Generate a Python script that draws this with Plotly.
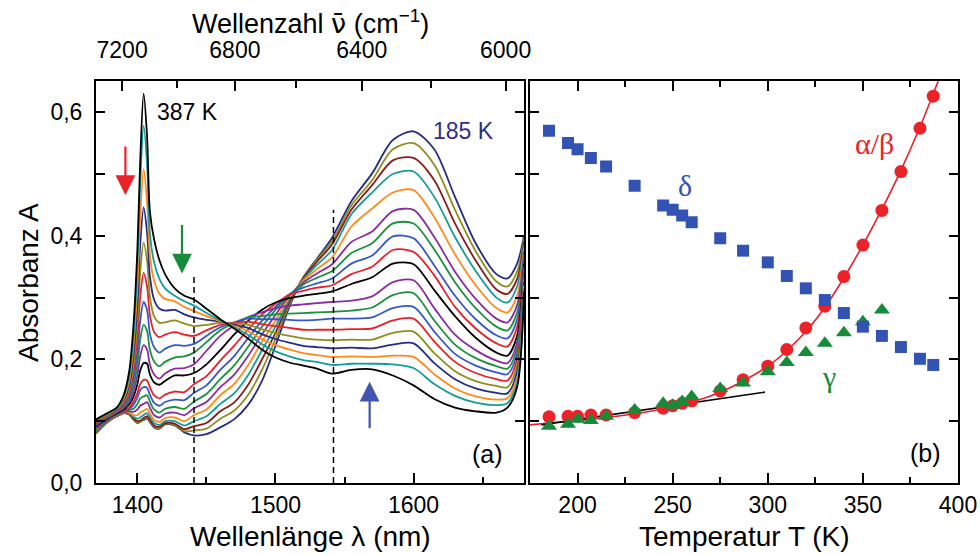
import plotly.graph_objects as go

# ---------------- panel (a): spectra ----------------
wavelength = [1370, 1378, 1385, 1390, 1394, 1397, 1400, 1402, 1404.5, 1407, 1409, 1412, 1416, 1420,
              1427, 1434, 1441, 1450, 1460, 1470, 1480, 1490, 1500, 1510, 1520, 1530, 1541,
              1555, 1570, 1585, 1600, 1615, 1630, 1645, 1660, 1668, 1675, 1680]

spec_T = [387, 380, 370, 360, 350, 340, 330, 320, 310, 300, 287, 275, 260, 250, 245, 230, 215, 200, 185]

spec_colors = ['#000000', '#139C9C', '#FF8A1C', '#232C86', '#8E8E1E', '#E8202A', '#3558C8', '#1B913C',
               '#8A2C9E', '#000000', '#E8202A', '#3558C8', '#1B913C', '#8A2C9E', '#FF8A1C', '#139C9C',
               '#8B1A1A', '#8E8E1E', '#232C86']

A_387 = [0.103, 0.113, 0.122, 0.142, 0.180, 0.250, 0.380, 0.520, 0.630,
         0.560, 0.440, 0.395, 0.360, 0.338, 0.315, 0.303, 0.297,
         0.282, 0.265, 0.250, 0.234, 0.216, 0.203, 0.195, 0.190, 0.185, 0.177,
         0.183, 0.184, 0.174, 0.158, 0.136, 0.122, 0.116, 0.114, 0.122, 0.155, 0.310]
A_380 = [0.102, 0.112, 0.121, 0.140, 0.172, 0.235, 0.355, 0.485, 0.578,
         0.515, 0.405, 0.358, 0.330, 0.315, 0.303, 0.294, 0.287,
         0.275, 0.263, 0.252, 0.240, 0.225, 0.213, 0.205, 0.199, 0.196, 0.191,
         0.193, 0.193, 0.192, 0.186, 0.160, 0.141, 0.130, 0.126, 0.129, 0.162, 0.315]
A_370 = [0.101, 0.111, 0.120, 0.137, 0.165, 0.220, 0.320, 0.430, 0.508,
         0.455, 0.370, 0.328, 0.306, 0.298, 0.294, 0.285, 0.278,
         0.270, 0.262, 0.254, 0.246, 0.233, 0.223, 0.216, 0.210, 0.207, 0.204,
         0.205, 0.204, 0.206, 0.204, 0.176, 0.153, 0.140, 0.135, 0.137, 0.170, 0.320]
A_360 = [0.100, 0.110, 0.119, 0.134, 0.158, 0.205, 0.290, 0.385, 0.446,
         0.405, 0.335, 0.297, 0.282, 0.279, 0.280, 0.273, 0.268,
         0.264, 0.261, 0.256, 0.251, 0.241, 0.233, 0.227, 0.222, 0.220, 0.218,
         0.219, 0.218, 0.224, 0.226, 0.194, 0.168, 0.153, 0.146, 0.145, 0.180, 0.325]
A_350 = [0.099, 0.109, 0.118, 0.131, 0.152, 0.190, 0.262, 0.340, 0.389,
         0.360, 0.302, 0.270, 0.259, 0.260, 0.263, 0.258, 0.254,
         0.256, 0.259, 0.258, 0.256, 0.249, 0.243, 0.238, 0.234, 0.232, 0.231,
         0.232, 0.232, 0.243, 0.245, 0.210, 0.181, 0.165, 0.157, 0.155, 0.190, 0.330]
A_340 = [0.097, 0.108, 0.117, 0.128, 0.146, 0.178, 0.237, 0.300, 0.340,
         0.318, 0.272, 0.245, 0.236, 0.240, 0.244, 0.240, 0.238,
         0.247, 0.256, 0.259, 0.261, 0.257, 0.254, 0.251, 0.248, 0.248, 0.248,
         0.249, 0.250, 0.263, 0.266, 0.229, 0.196, 0.178, 0.168, 0.166, 0.200, 0.335]
A_330 = [0.096, 0.107, 0.116, 0.125, 0.140, 0.166, 0.212, 0.262, 0.293,
         0.280, 0.242, 0.220, 0.211, 0.217, 0.223, 0.222, 0.225,
         0.238, 0.252, 0.260, 0.266, 0.265, 0.265, 0.264, 0.263, 0.264, 0.266,
         0.266, 0.268, 0.283, 0.285, 0.245, 0.209, 0.190, 0.179, 0.176, 0.209, 0.340]
A_320 = [0.095, 0.106, 0.115, 0.123, 0.136, 0.156, 0.192, 0.232, 0.256,
         0.246, 0.216, 0.197, 0.189, 0.196, 0.203, 0.205, 0.211,
         0.228, 0.247, 0.259, 0.268, 0.270, 0.273, 0.274, 0.275, 0.276, 0.277,
         0.279, 0.284, 0.304, 0.307, 0.263, 0.224, 0.202, 0.189, 0.185, 0.218, 0.345]
A_310 = [0.093, 0.105, 0.114, 0.121, 0.131, 0.147, 0.175, 0.205, 0.223,
         0.216, 0.192, 0.176, 0.169, 0.177, 0.185, 0.186, 0.192,
         0.214, 0.238, 0.255, 0.268, 0.276, 0.283, 0.287, 0.289, 0.291, 0.293,
         0.295, 0.302, 0.325, 0.328, 0.283, 0.240, 0.215, 0.198, 0.194, 0.227, 0.350]
A_300 = [0.092, 0.104, 0.113, 0.119, 0.127, 0.139, 0.160, 0.182, 0.194,
         0.193, 0.176, 0.163, 0.159, 0.165, 0.174, 0.174, 0.178,
         0.192, 0.215, 0.240, 0.262, 0.280, 0.292, 0.299, 0.303, 0.306, 0.310,
         0.322, 0.333, 0.355, 0.354, 0.312, 0.270, 0.235, 0.211, 0.206, 0.238, 0.355]
A_287 = [0.091, 0.103, 0.112, 0.117, 0.122, 0.131, 0.146, 0.160, 0.167,
         0.166, 0.155, 0.142, 0.137, 0.143, 0.148, 0.147, 0.160,
         0.173, 0.198, 0.222, 0.248, 0.272, 0.290, 0.305, 0.311, 0.316, 0.320,
         0.338, 0.350, 0.377, 0.374, 0.336, 0.285, 0.250, 0.226, 0.221, 0.252, 0.360]
A_275 = [0.090, 0.102, 0.111, 0.116, 0.120, 0.126, 0.138, 0.150, 0.155,
         0.154, 0.143, 0.130, 0.125, 0.131, 0.135, 0.134, 0.146,
         0.158, 0.183, 0.205, 0.234, 0.262, 0.285, 0.305, 0.316, 0.323, 0.331,
         0.355, 0.368, 0.399, 0.396, 0.352, 0.303, 0.265, 0.239, 0.234, 0.264, 0.365]
A_260 = [0.088, 0.101, 0.110, 0.115, 0.118, 0.120, 0.128, 0.137, 0.140,
         0.142, 0.132, 0.119, 0.114, 0.120, 0.123, 0.120, 0.132,
         0.144, 0.168, 0.190, 0.220, 0.252, 0.280, 0.304, 0.321, 0.332, 0.343,
         0.372, 0.388, 0.420, 0.420, 0.378, 0.325, 0.283, 0.253, 0.247, 0.276, 0.370]
A_250 = [0.087, 0.100, 0.110, 0.115, 0.116, 0.115, 0.119, 0.125, 0.128,
         0.131, 0.122, 0.110, 0.106, 0.112, 0.114, 0.110, 0.121,
         0.131, 0.155, 0.175, 0.205, 0.240, 0.272, 0.303, 0.324, 0.339, 0.354,
         0.390, 0.407, 0.440, 0.442, 0.398, 0.342, 0.298, 0.266, 0.260, 0.288, 0.375]
A_245 = [0.086, 0.100, 0.109, 0.114, 0.114, 0.110, 0.110, 0.114, 0.117,
         0.120, 0.113, 0.102, 0.099, 0.105, 0.106, 0.100, 0.110,
         0.119, 0.142, 0.160, 0.190, 0.228, 0.263, 0.300, 0.327, 0.346, 0.365,
         0.415, 0.444, 0.470, 0.474, 0.430, 0.370, 0.320, 0.283, 0.276, 0.303, 0.380]
A_230 = [0.084, 0.099, 0.109, 0.114, 0.113, 0.107, 0.104, 0.106, 0.110,
         0.113, 0.107, 0.097, 0.094, 0.100, 0.100, 0.093, 0.100,
         0.108, 0.128, 0.145, 0.174, 0.214, 0.253, 0.297, 0.329, 0.353, 0.377,
         0.435, 0.470, 0.500, 0.504, 0.463, 0.398, 0.343, 0.300, 0.292, 0.318, 0.385]
A_215 = [0.083, 0.099, 0.108, 0.113, 0.112, 0.105, 0.100, 0.101, 0.105,
         0.108, 0.103, 0.093, 0.091, 0.097, 0.096, 0.087, 0.092,
         0.097, 0.116, 0.130, 0.158, 0.199, 0.243, 0.293, 0.331, 0.358, 0.386,
         0.442, 0.482, 0.522, 0.526, 0.490, 0.420, 0.360, 0.313, 0.306, 0.330, 0.390]
A_200 = [0.081, 0.098, 0.108, 0.113, 0.111, 0.104, 0.098, 0.099, 0.103,
         0.106, 0.101, 0.091, 0.089, 0.096, 0.094, 0.084, 0.085,
         0.088, 0.104, 0.117, 0.142, 0.182, 0.233, 0.289, 0.332, 0.361, 0.391,
         0.449, 0.490, 0.540, 0.550, 0.515, 0.442, 0.375, 0.326, 0.318, 0.342, 0.395]
A_185 = [0.080, 0.098, 0.108, 0.113, 0.111, 0.103, 0.097, 0.099, 0.102,
         0.104, 0.099, 0.090, 0.088, 0.095, 0.093, 0.082, 0.077,
         0.079, 0.090, 0.103, 0.126, 0.164, 0.222, 0.285, 0.332, 0.363, 0.397,
         0.456, 0.501, 0.555, 0.569, 0.540, 0.463, 0.388, 0.338, 0.331, 0.355, 0.400]

spectra = [A_387, A_380, A_370, A_360, A_350, A_340, A_330, A_320, A_310, A_300,
           A_287, A_275, A_260, A_250, A_245, A_230, A_215, A_200, A_185]

dash_lambda = [1441, 1542]
dash_top = [0.338, 0.442]

x_range_nm = [1370, 1680]
x_ticks_nm = [1400, 1500, 1600]
x_minor_nm = [1450, 1550, 1650]
wavenumber_ticks = [7200, 6800, 6400, 6000]
wavenumber_minor = [7000, 6600, 6200]
y_ticks = [0.0, 0.1, 0.2, 0.3, 0.4, 0.5, 0.6]
y_ticktext = ['0,0', '', '0,2', '', '0,4', '', '0,6']

# ---------------- panel (b): amplitudes vs temperature ----------------
T_points = [185, 195, 200, 207, 215, 230, 245, 250, 255, 260, 275, 287, 300, 310, 320, 330,
            340, 350, 360, 370, 380, 387]
alpha_beta = [0.107, 0.108, 0.108, 0.110, 0.110, 0.114, 0.121, 0.125, 0.129, 0.133, 0.149, 0.167,
              0.189, 0.216, 0.251, 0.286, 0.334, 0.385, 0.441, 0.504, 0.574, 0.626]
delta = [0.570, 0.550, 0.540, 0.526, 0.512, 0.481, 0.449, 0.442, 0.433, 0.422, 0.396, 0.376,
         0.357, 0.335, 0.315, 0.296, 0.275, 0.253, 0.238, 0.220, 0.201, 0.191]
T_gamma = [185, 195, 200, 207, 215, 230, 245, 250, 255, 260, 275, 287, 300, 310, 320, 330, 340, 350, 360]
gamma = [0.092, 0.095, 0.103, 0.101, 0.108, 0.118, 0.129, 0.126, 0.132, 0.140, 0.153, 0.162,
         0.180, 0.195, 0.211, 0.226, 0.243, 0.261, 0.280]

fit_T = [175, 185, 200, 215, 230, 245, 260, 275, 287, 300, 310, 320, 330, 340, 350, 360, 370, 380, 387, 391]
fit_A = [0.094, 0.097, 0.101, 0.106, 0.112, 0.120, 0.131, 0.147, 0.165, 0.189, 0.214, 0.245, 0.284,
         0.332, 0.385, 0.443, 0.506, 0.576, 0.630, 0.662]
lin_T = [181, 298.5]
lin_A = [0.094, 0.147]

T_ticks = [200, 250, 300, 350, 400]
T_minor = [225, 275, 325, 375]

# ---------------- figure ----------------
W, H = 980, 555
FONT = 'Liberation Sans, Arial, sans-serif'
SERIF = 'Liberation Serif, Times New Roman, serif'

fig = go.Figure()

for k in range(len(spectra) - 1, -1, -1):
    fig.add_trace(go.Scatter(x=wavelength, y=spectra[k], mode='lines', name=f'{spec_T[k]} K',
                             line=dict(color=spec_colors[k], width=1.8, shape='spline', smoothing=0.8),
                             xaxis='x', yaxis='y', showlegend=False, hoverinfo='skip'))

for lam, top in zip(dash_lambda, dash_top):
    fig.add_trace(go.Scatter(x=[lam, lam], y=[0, top], mode='lines',
                             line=dict(color='black', width=1.5, dash='6px,4px'),
                             xaxis='x', yaxis='y', showlegend=False, hoverinfo='skip'))

# invisible trace so that the top wavenumber axis is drawn with its labels
fig.add_trace(go.Scatter(x=x_range_nm, y=[0, 0], mode='markers', marker=dict(opacity=0),
                         xaxis='x3', yaxis='y', showlegend=False, hoverinfo='skip'))

fig.add_trace(go.Scatter(x=fit_T, y=fit_A, mode='lines', line=dict(color='#E8202A', width=1.6, shape='spline'),
                         xaxis='x2', yaxis='y2', showlegend=False, hoverinfo='skip'))
fig.add_trace(go.Scatter(x=lin_T, y=lin_A, mode='lines', line=dict(color='black', width=1.6),
                         xaxis='x2', yaxis='y2', showlegend=False, hoverinfo='skip'))
fig.add_trace(go.Scatter(x=T_points, y=alpha_beta, mode='markers',
                         marker=dict(symbol='circle', size=13, color='#EC2228'),
                         xaxis='x2', yaxis='y2', showlegend=False))
fig.add_trace(go.Scatter(x=T_gamma, y=gamma, mode='markers',
                         marker=dict(symbol='triangle-up', size=14, color='#168C3A'),
                         xaxis='x2', yaxis='y2', showlegend=False))
fig.add_trace(go.Scatter(x=T_points, y=delta, mode='markers',
                         marker=dict(symbol='square', size=12, color='#3253B3'),
                         xaxis='x2', yaxis='y2', showlegend=False))

ytop = (H - 81.3) / H
ybot = (H - 483) / H
dom_a = [96 / W, 524 / W]
dom_b = [530 / W, 958 / W]

axis_common = dict(showgrid=False, zeroline=False, showline=True, linecolor='black', linewidth=2,
                   ticks='inside', tickcolor='black', tickwidth=1.6, automargin=False,
                   tickfont=dict(family=FONT, size=23, color='black'))

fig.update_layout(
    width=W, height=H, margin=dict(l=0, r=0, t=0, b=0, autoexpand=False),
    paper_bgcolor='white', plot_bgcolor='white', showlegend=False,
    xaxis=dict(domain=dom_a, range=x_range_nm, anchor='y', tickmode='array',
               tickvals=x_ticks_nm, ticktext=[str(v) for v in x_ticks_nm], ticklen=10,
               ticklabelstandoff=0,
               minor=dict(tickvals=x_minor_nm, ticklen=6, ticks='inside', tickcolor='black', tickwidth=1.6),
               **axis_common),
    xaxis3=dict(overlaying='x', side='top', anchor='y', range=x_range_nm, tickmode='array',
                tickvals=[1e7 / v for v in wavenumber_ticks], ticktext=[str(v) for v in wavenumber_ticks],
                ticklen=10, ticklabelstandoff=12,
                minor=dict(tickvals=[1e7 / v for v in wavenumber_minor], ticklen=7, ticks='inside',
                           tickcolor='black', tickwidth=1.6),
                **axis_common),
    yaxis=dict(domain=[ybot, ytop], range=[0, 0.65], anchor='x', tickmode='array',
               tickvals=y_ticks, ticktext=y_ticktext, ticklen=9, mirror='ticks', ticklabelstandoff=7,
               **axis_common),
    xaxis2=dict(domain=dom_b, range=[175, 400], anchor='y2', tickmode='array',
                tickvals=T_ticks, ticktext=[str(v) for v in T_ticks], ticklen=10, mirror='ticks',
                ticklabelstandoff=0,
                minor=dict(tickvals=T_minor, ticklen=6, ticks='inside', tickcolor='black', tickwidth=1.6),
                **axis_common),
    yaxis2=dict(domain=[ybot, ytop], range=[0, 0.65], anchor='x2', tickmode='array',
                tickvals=y_ticks, showticklabels=False, ticklen=9, mirror='ticks',
                **axis_common),
)

def paper_text(text, xpx, ypx, size=28, angle=0, family=FONT):
    return dict(text=text, x=xpx / W, y=(H - ypx) / H, xref='paper', yref='paper',
                xanchor='center', yanchor='middle', textangle=angle, showarrow=False,
                font=dict(family=family, size=size, color='black'))

ann = []
# axis titles
ann.append(paper_text('Wellenlänge λ (nm)', 310, 536))
ann.append(paper_text('Temperatur T (K)', 744, 536))
ann.append(paper_text('Wellenzahl <span style="font-family:DejaVu Sans">ν\u0304</span> (cm<sup>−1</sup>)',
                      310, 22, size=27))
ann.append(paper_text('Absorbanz A', 28, 283, angle=-90))
# panel labels
ann.append(dict(text='387 K', x=1413, y=0.600, xref='x', yref='y', xanchor='left', yanchor='middle',
                showarrow=False, font=dict(family=FONT, size=23, color='black')))
ann.append(dict(text='185 K', x=1612.5, y=0.569, xref='x', yref='y', xanchor='left', yanchor='middle',
                showarrow=False, font=dict(family=FONT, size=23, color='#2E3088')))
ann.append(dict(text='(a)', x=1666, y=0.047, xref='x', yref='y', xanchor='right', yanchor='middle',
                showarrow=False, font=dict(family=FONT, size=25, color='black')))
ann.append(dict(text='(b)', x=392, y=0.049, xref='x2', yref='y2', xanchor='right', yanchor='middle',
                showarrow=False, font=dict(family=FONT, size=25, color='black')))
ann.append(dict(text='α/β', x=356, y=0.550, xref='x2', yref='y2', showarrow=False,
                xanchor='center', yanchor='middle', font=dict(family=SERIF, size=30, color='#EC2228')))
ann.append(dict(text='δ', x=256.3, y=0.481, xref='x2', yref='y2', showarrow=False,
                xanchor='center', yanchor='middle', font=dict(family=SERIF, size=30, color='#3253B3')))
ann.append(dict(text='γ', x=332, y=0.173, xref='x2', yref='y2', showarrow=False,
                xanchor='center', yanchor='middle', font=dict(family=SERIF, size=30, color='#168C3A')))
# arrows
for (xa, ya, dy, col) in [(1391.3, 0.466, -50, '#EC2228'), (1432.3, 0.339, -50, '#168C3A'),
                          (1568.2, 0.164, 48, '#3F55B0')]:
    ann.append(dict(text='', x=xa, y=ya, xref='x', yref='y', ax=0, ay=dy, showarrow=True,
                    arrowhead=2, arrowsize=1.8, arrowwidth=2.2, arrowcolor=col))

fig.update_layout(annotations=ann)

fig.write_html('out.html')
